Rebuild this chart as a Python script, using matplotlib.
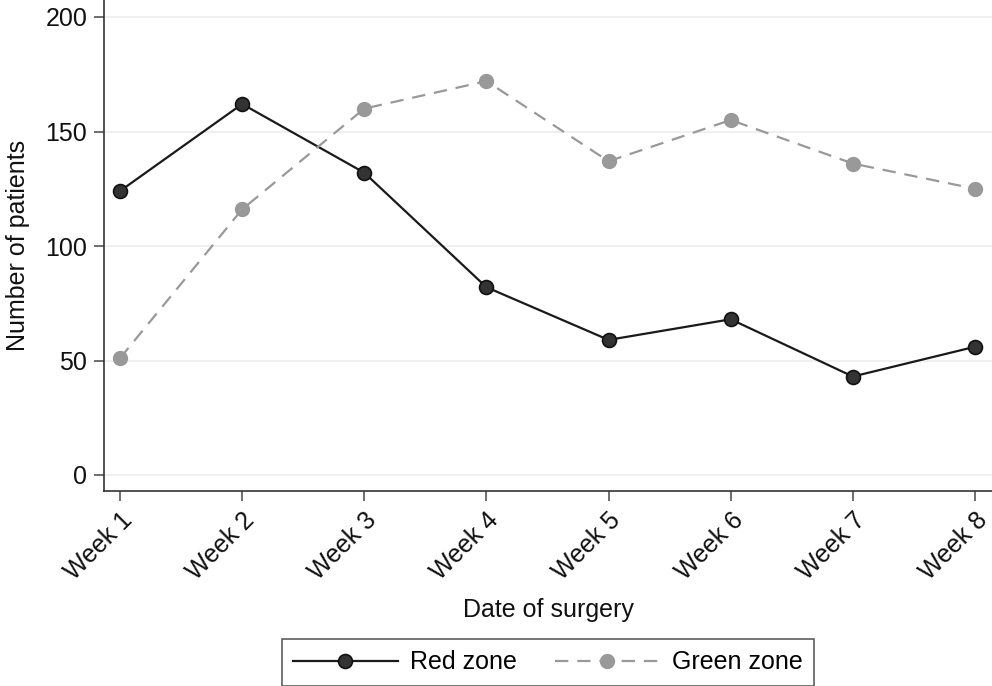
import matplotlib
matplotlib.use("Agg")
import matplotlib.pyplot as plt

weeks = ["Week 1", "Week 2", "Week 3", "Week 4", "Week 5", "Week 6", "Week 7", "Week 8"]
red_zone = [124, 162, 132, 82, 59, 68, 43, 56]
green_zone = [51, 116, 160, 172, 137, 155, 136, 125]
y_ticks = [0, 50, 100, 150, 200]

plt.rcParams['font.family'] = ['Liberation Sans', 'DejaVu Sans']

fig = plt.figure(figsize=(9.92, 6.86), dpi=100)
ax = fig.add_axes([104/992, 1-491/686, 1-104/992, 491/686])

x = list(range(1, len(weeks) + 1))
ax.plot(x, red_zone, color='#1a1a1a', lw=1.6, marker='o', ms=10,
        mfc='#333333', mec='#111111', mew=1.2, label='Red zone', zorder=3)
ax.plot(x, green_zone, color='#999999', lw=1.6, ls=(0, (6, 4)), marker='o', ms=10,
        mfc='#999999', mec='#999999', label='Green zone', zorder=3)

ax.set_xlim(1 - 16/122.14, 8 + 17/122.14)
ax.set_ylim(-16/2.29, 200 + 17/2.29)
ax.set_yticks(y_ticks)
ax.set_yticklabels([str(v) for v in y_ticks])
ax.set_xticks(x)
ax.set_xticklabels(weeks, rotation=45, ha='right', rotation_mode='anchor')
ax.grid(axis='y', color='#f0f0f0', lw=1.5)
ax.set_axisbelow(True)
for s in ['top', 'right']:
    ax.spines[s].set_visible(False)
for s in ['left', 'bottom']:
    ax.spines[s].set_color('#333333')
    ax.spines[s].set_linewidth(1.2)
ax.tick_params(axis='both', direction='out', length=7, width=1.2, color='#555555',
               labelsize=18, labelcolor='#111111', pad=5)
ax.set_ylabel('Number of patients', fontsize=18, color='#111111', labelpad=11)
ax.set_xlabel('Date of surgery', fontsize=18, color='#111111', labelpad=10)

leg = ax.legend(loc='upper center', bbox_to_anchor=(0.5, -148/491), ncol=2,
                fontsize=18, frameon=True, fancybox=False, edgecolor='#333333',
                handlelength=4.2, handletextpad=0.5, columnspacing=1.5, borderpad=0.45,
                borderaxespad=0)
leg.get_frame().set_linewidth(1.2)

fig.savefig('out.png', dpi=100)
